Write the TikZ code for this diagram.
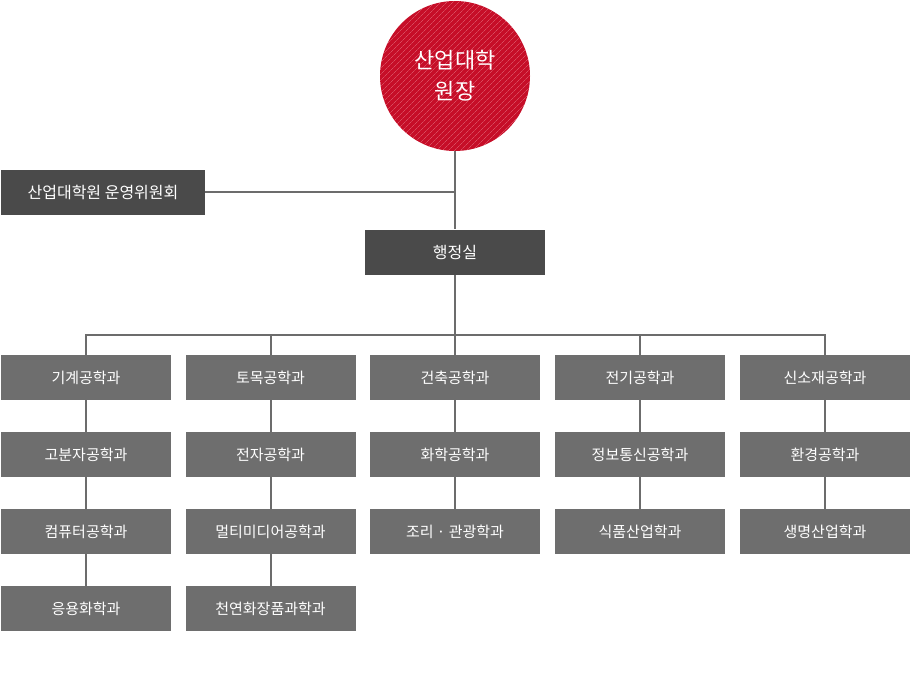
\documentclass[tikz,border=0pt]{standalone}
\usepackage{fontspec}
\setmainfont{Noto Sans CJK KR}
\usepackage{tikz}
\usetikzlibrary{positioning,patterns.meta}
\definecolor{headred}{RGB}{198,14,40}
\definecolor{stripe}{RGB}{228,110,125}
\definecolor{darkbox}{RGB}{74,74,74}
\definecolor{deptgray}{RGB}{110,110,110}
\definecolor{linegray}{RGB}{108,108,108}

\begin{document}
\begin{tikzpicture}[x=1pt,y=-1pt,
  dept/.style={fill=deptgray,text=white,minimum width=170pt,minimum height=45pt,inner sep=0pt,font=\fontsize{15}{17}\selectfont},
  darkbox/.style={fill=darkbox,text=white,minimum height=45pt,inner sep=0pt,font=\fontsize{16}{18}\selectfont},
  link/.style={draw=linegray,line width=2pt}]
\useasboundingbox (0,0) rectangle (910,699);
\node[circle,fill=headred,minimum size=150pt,inner sep=0pt,text=white,align=center,
  font=\fontsize{22}{31}\selectfont,
  postaction={pattern={Lines[angle=45,distance=4pt,line width=0.4pt]},pattern color=stripe}]
  (dean) at (455,76) {산업대학\\원장};
\node[darkbox,minimum width=204pt] (committee) at (103,192) {산업대학원 운영위원회};
\node[darkbox,minimum width=180pt] (office) at (455,252) {행정실};
\coordinate (bus) at (455,335);
 \foreach \name/\xx/\row/\txt in {d11/86/0/기계공학과,d12/86/1/고분자공학과,d13/86/2/컴퓨터공학과,d14/86/3/응용화학과,
   d21/270.5/0/토목공학과,d22/270.5/1/전자공학과,d23/270.5/2/멀티미디어공학과,d24/270.5/3/천연화장품과학과,
   d31/455/0/건축공학과,d32/455/1/화학공학과,d33/455/2/조리 · 관광학과,
   d41/640/0/전기공학과,d42/640/1/정보통신공학과,d43/640/2/식품산업학과,
   d51/825/0/신소재공학과,d52/825/1/환경공학과,d53/825/2/생명산업학과}
    \node[dept] (\name) at (\xx,{377.5+77*\row}) {\txt};
\draw[link] (dean) -- (office);
\draw[link] (committee) -- (committee -| dean);
\draw[link] (office) -- (d31);
\draw[link] (d11) -- (d11 |- bus) -- (d51 |- bus) -- (d51);
 \foreach \col in {2,4}
    \draw[link] (d\col1) -- (d\col1 |- bus);
 \foreach \a/\b in {d11/d12,d12/d13,d13/d14,d21/d22,d22/d23,d23/d24,d31/d32,d32/d33,d41/d42,d42/d43,d51/d52,d52/d53}
    \draw[link] (\a) -- (\b);
\end{tikzpicture}
\end{document}
